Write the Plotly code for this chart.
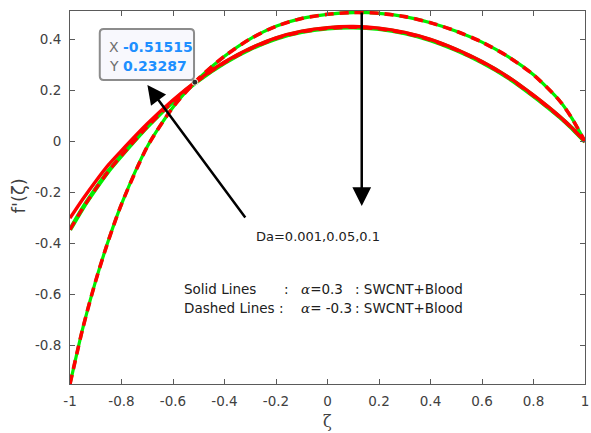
import plotly.graph_objects as go

# Similarity coordinate
zeta = [-1.0, -0.95, -0.9, -0.85, -0.8, -0.7, -0.6, -0.5, -0.4, -0.3, -0.2, -0.1,
        0.0, 0.1, 0.2, 0.3, 0.4, 0.5, 0.6, 0.7, 0.8, 0.9, 0.95, 1.0]

# Velocity profiles f'(zeta), alpha = 0.3 (SWCNT + Blood)
fp_alpha_pos_da1 = [-0.300, -0.225, -0.155, -0.090, -0.035, 0.070, 0.163, 0.244, 0.312, 0.366,
                    0.407, 0.433, 0.447, 0.451, 0.445, 0.428, 0.401, 0.362, 0.314, 0.255,
                    0.182, 0.100, 0.053, 0.000]
fp_alpha_pos_da2 = [-0.345, -0.260, -0.185, -0.115, -0.055, 0.058, 0.157, 0.241, 0.309, 0.363,
                    0.404, 0.430, 0.444, 0.448, 0.442, 0.425, 0.398, 0.359, 0.311, 0.252,
                    0.179, 0.098, 0.052, 0.000]
# Velocity profile f'(zeta), alpha = -0.3 (SWCNT + Blood)
fp_alpha_neg = [-0.950, -0.730, -0.545, -0.385, -0.245, -0.020, 0.135, 0.248, 0.335, 0.403,
                0.452, 0.483, 0.499, 0.506, 0.503, 0.490, 0.466, 0.433, 0.390, 0.334,
                0.262, 0.162, 0.090, 0.000]

# Data tip
tip_x = [-0.51515]
tip_y = [0.23287]

x_ticks = [-1, -0.8, -0.6, -0.4, -0.2, 0, 0.2, 0.4, 0.6, 0.8, 1]
x_tick_text = ["-1", "-0.8", "-0.6", "-0.4", "-0.2", "0", "0.2", "0.4", "0.6", "0.8", "1"]
y_ticks = [-0.8, -0.6, -0.4, -0.2, 0, 0.2, 0.4]
y_tick_text = ["-0.8", "-0.6", "-0.4", "-0.2", "0", "0.2", "0.4"]

RED = "#ff0000"
GREEN = "#00ee00"
FONT = "DejaVu Sans"

# plot-area geometry in pixels
W, H = 591, 433
L, R, T, B = 70, 2, 11, 49
PW, PH = W - L - R, H - T - B


def fx(p):
    return (p - L) / PW


def fy(p):
    return (H - B - p) / PH


fig = go.Figure()

line_kw = dict(shape="spline", smoothing=0.7)
fig.add_trace(go.Scatter(x=zeta, y=fp_alpha_neg, mode="lines",
                         line=dict(color=GREEN, width=3.2, **line_kw), hoverinfo="skip"))
fig.add_trace(go.Scatter(x=zeta, y=fp_alpha_pos_da2, mode="lines",
                         line=dict(color=GREEN, width=4.4, **line_kw), hoverinfo="skip"))
fig.add_trace(go.Scatter(x=zeta, y=fp_alpha_pos_da1, mode="lines",
                         line=dict(color=RED, width=3.4, **line_kw), hoverinfo="skip"))
fig.add_trace(go.Scatter(x=zeta, y=fp_alpha_pos_da2, mode="lines",
                         line=dict(color=RED, width=3.4, dash="9px,6px", **line_kw), hoverinfo="skip"))
fig.add_trace(go.Scatter(x=zeta, y=fp_alpha_neg, mode="lines",
                         line=dict(color=RED, width=3.6, dash="9px,6px", **line_kw), hoverinfo="skip"))
fig.add_trace(go.Scatter(x=tip_x, y=tip_y, mode="markers",
                         marker=dict(color="#2a2a2a", size=6, line=dict(color="#f4f0d8", width=1)),
                         hoverinfo="skip"))

# data-tip box with rounded corners
x0, x1, y0, y1, r = 100, 195, 29, 80, 4
path = (f"M {fx(x0 + r)},{fy(y0)} L {fx(x1 - r)},{fy(y0)} Q {fx(x1)},{fy(y0)} {fx(x1)},{fy(y0 + r)} "
        f"L {fx(x1)},{fy(y1 - r)} Q {fx(x1)},{fy(y1)} {fx(x1 - r)},{fy(y1)} "
        f"L {fx(x0 + r)},{fy(y1)} Q {fx(x0)},{fy(y1)} {fx(x0)},{fy(y1 - r)} "
        f"L {fx(x0)},{fy(y0 + r)} Q {fx(x0)},{fy(y0)} {fx(x0 + r)},{fy(y0)} Z")
fig.add_shape(type="path", path=path, xref="paper", yref="paper",
              line=dict(color="#8c8c8c", width=2), fillcolor="#f8f8fd", layer="above")

annotations = []
for label_txt, val, ypx in (("X", tip_x[0], 47), ("Y", tip_y[0], 66)):
    annotations.append(dict(
        x=fx(107), y=fy(ypx), xref="paper", yref="paper", xanchor="left", yanchor="middle",
        showarrow=False, font=dict(family=FONT, size=14, color="#6e6e6e"),
        text=f'{label_txt} <b><span style="color:#1e8fff">{val:.5f}</span></b>'))

# arrows
annotations.append(dict(x=fx(148), y=fy(85), xref="paper", yref="paper", ax=99, ay=134,
                        showarrow=True, arrowhead=2, arrowsize=1.5, arrowwidth=2.5,
                        arrowcolor="#000000", text="", standoff=0))
annotations.append(dict(x=fx(364), y=fy(206), xref="paper", yref="paper", ax=0, ay=-195,
                        showarrow=True, arrowhead=2, arrowsize=1.5, arrowwidth=2.5,
                        arrowcolor="#000000", text="", standoff=0))

alpha = '<span style="font-family:DejaVu Serif;font-style:italic">α</span>'


def label(text, xpx, ypx, size=13.5):
    annotations.append(dict(x=fx(xpx), y=fy(ypx), xref="paper", yref="paper", xanchor="left",
                            yanchor="middle", showarrow=False,
                            font=dict(family=FONT, size=size, color="#202020"), text=text))


label("Da=0.001,0.05,0.1", 255, 237, 13)
# line-style key
label("Solid Lines", 183, 289)
label(":", 284, 289)
label(f"{alpha}=0.3", 301, 289)
label(": SWCNT+Blood", 355, 289)
label("Dashed Lines :", 183, 308)
label(f"{alpha}= -0.3", 301, 308)
label(": SWCNT+Blood", 355, 308)

# axis titles
annotations.append(dict(x=fx(330), y=fy(421), xref="paper", yref="paper", showarrow=False,
                        xanchor="center", yanchor="middle",
                        font=dict(family="DejaVu Serif", size=16, color="#404040"), text="ζ"))
annotations.append(dict(x=fx(18), y=fy(196), xref="paper", yref="paper", showarrow=False,
                        xanchor="center", yanchor="middle", textangle=-90,
                        font=dict(family=FONT, size=18, color="#404040"),
                        text="f'(ζ)"))

axis_common = dict(showline=True, linecolor="#5a5a5a", linewidth=1, mirror="ticks",
                   ticks="inside", ticklen=5, tickcolor="#5a5a5a", showgrid=False,
                   zeroline=False, ticklabeloverflow="allow",
                   tickfont=dict(family=FONT, size=13.5, color="#404040"))

fig.update_layout(
    width=W, height=H,
    margin=dict(l=L, r=R, t=T, b=B),
    paper_bgcolor="white", plot_bgcolor="white",
    showlegend=False,
    xaxis=dict(range=[-1, 1], tickvals=x_ticks, ticktext=x_tick_text,
               ticklabelstandoff=5, **axis_common),
    yaxis=dict(range=[-0.95, 0.512], tickvals=y_ticks, ticktext=y_tick_text,
               ticklabelstandoff=5, **axis_common),
    annotations=annotations,
)

fig.write_html("out.html")
